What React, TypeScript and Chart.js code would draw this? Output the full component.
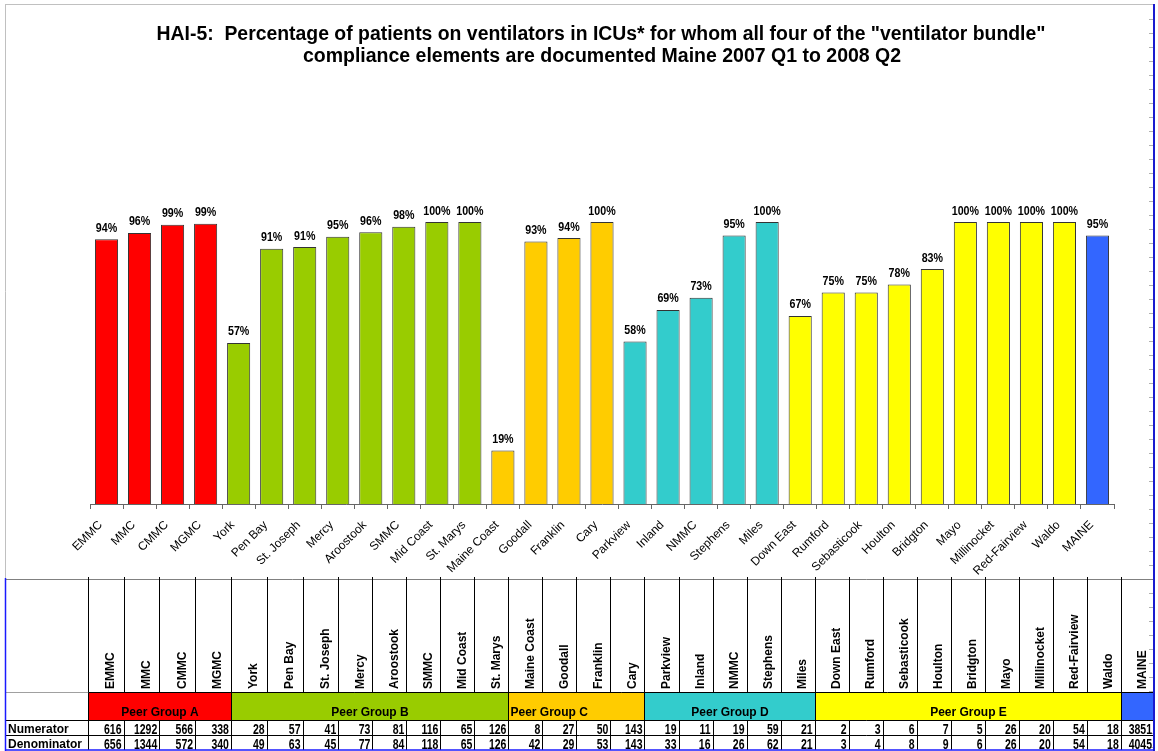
import React, { useEffect, useRef } from 'react';
import { Chart, registerables } from 'chart.js';
Chart.register(...registerables);

const titleLines = [
  'HAI-5:  Percentage of patients on ventilators in ICUs* for whom all four of the "ventilator bundle"',
  'compliance elements are documented Maine 2007 Q1 to 2008 Q2',
];

const hospitals = ['EMMC', 'MMC', 'CMMC', 'MGMC', 'York', 'Pen Bay', 'St. Joseph', 'Mercy', 'Aroostook', 'SMMC', 'Mid Coast', 'St. Marys', 'Maine Coast', 'Goodall', 'Franklin', 'Cary', 'Parkview', 'Inland', 'NMMC', 'Stephens', 'Miles', 'Down East', 'Rumford', 'Sebasticook', 'Houlton', 'Bridgton', 'Mayo', 'Millinocket', 'Red-Fairview', 'Waldo', 'MAINE'];
const percentages = [93.9, 96.1, 99.0, 99.4, 57.1, 90.5, 91.1, 94.8, 96.4, 98.3, 100, 100, 19.0, 93.1, 94.3, 100, 57.6, 68.8, 73.1, 95.2, 100, 66.7, 75.0, 75.0, 77.8, 83.3, 100, 100, 100, 100, 95.2];
const numerators = [616, 1292, 566, 338, 28, 57, 41, 73, 81, 116, 65, 126, 8, 27, 50, 143, 19, 11, 19, 59, 21, 2, 3, 6, 7, 5, 26, 20, 54, 18, 3851];
const denominators = [656, 1344, 572, 340, 49, 63, 45, 77, 84, 118, 65, 126, 42, 29, 53, 143, 33, 16, 26, 62, 21, 3, 4, 8, 9, 6, 26, 20, 54, 18, 4045];
const peerGroups = ['A', 'A', 'A', 'A', 'B', 'B', 'B', 'B', 'B', 'B', 'B', 'B', 'C', 'C', 'C', 'C', 'D', 'D', 'D', 'D', 'D', 'E', 'E', 'E', 'E', 'E', 'E', 'E', 'E', 'E', 'ALL'];
const peerGroupNames: Record<string, string> = { A: 'Peer Group A', B: 'Peer Group B', C: 'Peer Group C', D: 'Peer Group D', E: 'Peer Group E', ALL: '' };
const rowLabels = ['Numerator', 'Denominator'];

const groupColors: Record<string, string> = { A: '#FF0000', B: '#99CC00', C: '#FFCC00', D: '#33CCCC', E: '#FFFF00', ALL: '#3366FF' };
const FONT = '"Liberation Sans", Arial, sans-serif';

// table geometry
const colBound = (i: number) => (i <= 7 ? 87.7 + i * 35.8 : i <= 30 ? 338.3 + (i - 7) * 34.02 : 1154);
const px = (v: number) => Math.round(v) + 0.5;

function line(ctx: CanvasRenderingContext2D, x0: number, y0: number, x1: number, y1: number, color: string, w = 1) {
  ctx.strokeStyle = color;
  ctx.lineWidth = w;
  ctx.beginPath();
  ctx.moveTo(x0, y0);
  ctx.lineTo(x1, y1);
  ctx.stroke();
}

const decor = {
  id: 'decor',
  beforeDraw(chart: any) {
    const ctx = chart.ctx;
    ctx.save();
    ctx.fillStyle = '#fff';
    ctx.fillRect(0, 0, chart.width, chart.height);
    ctx.restore();
  },
  afterDatasetsDraw(chart: any) {
    const ctx: CanvasRenderingContext2D = chart.ctx;
    const meta = chart.getDatasetMeta(0);
    ctx.save();
    ctx.fillStyle = '#000';
    ctx.font = `bold 13px ${FONT}`;
    ctx.textAlign = 'center';
    ctx.textBaseline = 'alphabetic';
    meta.data.forEach((bar: any, i: number) => {
      ctx.save();
      ctx.translate(bar.x, bar.y - 7.5);
      ctx.scale(0.82, 1);
      ctx.fillText(Math.round(percentages[i]) + '%', 0, 0);
      ctx.restore();
    });
    ctx.restore();
  },
  afterDraw(chart: any) {
    const ctx: CanvasRenderingContext2D = chart.ctx;
    ctx.save();
    // title
    ctx.fillStyle = '#000';
    ctx.textAlign = 'center';
    ctx.textBaseline = 'alphabetic';
    ctx.font = `bold 19.4px ${FONT}`;
    ctx.fillText(titleLines[0], 601, 40);
    ctx.font = `bold 19.5px ${FONT}`;
    ctx.fillText(titleLines[1], 602, 62);

    // chart frame
    line(ctx, 5, 4.5, 1153, 4.5, '#c0c0c0');
    line(ctx, 5.5, 4, 5.5, 579, '#c0c0c0');
    // right side ticks
    for (let y = 19; y < 750; y += 14) line(ctx, 1149, px(y), 1153, px(y), '#b0b0b0');

    const T0 = 579.5, H1 = 692.5, H2 = 720.5, H3 = 735.5, H4 = 750;
    const n = hospitals.length;

    // peer group fills
    let s = 0;
    for (let i = 1; i <= n; i++) {
      if (i === n || peerGroups[i] !== peerGroups[s]) {
        const g = peerGroups[s];
        const x0 = px(colBound(s)), x1 = px(colBound(i));
        ctx.fillStyle = groupColors[g];
        ctx.fillRect(x0, H1, x1 - x0, H2 - H1);
        const name = peerGroupNames[g];
        if (name) {
          ctx.fillStyle = '#000';
          ctx.font = `bold 12px ${FONT}`;
          ctx.textBaseline = 'alphabetic';
          if (g === 'C') {
            ctx.textAlign = 'left';
            ctx.fillText(name, x0 + 2, 716);
          } else {
            ctx.textAlign = 'center';
            ctx.fillText(name, (x0 + x1) / 2, 716);
          }
        }
        line(ctx, x0, H1, x0, H2, '#000');
        s = i;
      }
    }

    // horizontal lines
    line(ctx, 5, T0, 1154, T0, '#808080');
    line(ctx, 5, H1, px(colBound(0)), H1, '#a0a0a0');
    line(ctx, px(colBound(0)), H1, 1154, H1, '#000');
    line(ctx, 5, H2, 1154, H2, '#000');
    line(ctx, 5, H3, 1154, H3, '#000');

    // vertical lines
    for (let i = 0; i <= n; i++) {
      const x = px(colBound(i));
      line(ctx, x, 577, x, H1, '#000');
      line(ctx, x, H2, x, H4, '#000');
    }

    // header names (rotated)
    ctx.fillStyle = '#000';
    ctx.font = `bold 12px ${FONT}`;
    ctx.textAlign = 'left';
    ctx.textBaseline = 'middle';
    for (let i = 0; i < n; i++) {
      const cx = (colBound(i) + colBound(i + 1)) / 2 + 5;
      ctx.save();
      ctx.translate(cx, 689);
      ctx.rotate(-Math.PI / 2);
      ctx.fillText(hospitals[i], 0, 0);
      ctx.restore();
    }

    // row labels
    ctx.textBaseline = 'alphabetic';
    ctx.textAlign = 'left';
    ctx.fillText(rowLabels[0], 8, 733);
    ctx.fillText(rowLabels[1], 8, 748);

    // numbers
    ctx.font = `bold 14px ${FONT}`;
    ctx.textAlign = 'right';
    const rows = [numerators, denominators];
    const bases = [733.5, 748.5];
    rows.forEach((row, r) => {
      row.forEach((v, i) => {
        ctx.save();
        ctx.translate(colBound(i + 1) - 2, bases[r]);
        ctx.scale(0.75, 1);
        ctx.fillText(String(v), 0, 0);
        ctx.restore();
      });
    });

    // blue borders
    line(ctx, 5.5, 578, 5.5, 751, '#1a1aff', 1.5);
    line(ctx, 5, H4, 1155, H4, '#1a1aff', 1.5);
    line(ctx, 1154, 4, 1154, 751, '#1a1ad0', 2);
    ctx.restore();
  },
};

export default function App() {
  const ref = useRef<HTMLCanvasElement>(null);
  useEffect(() => {
    const canvas = ref.current!;
    const chart = new Chart(canvas, {
      type: 'bar',
      data: {
        labels: hospitals,
        datasets: [
          {
            data: percentages,
            backgroundColor: peerGroups.map((g) => groupColors[g]),
            borderColor: '#333333',
            borderWidth: 1,
            categoryPercentage: 1,
            barPercentage: 0.7,
          },
        ],
      },
      options: {
        responsive: false,
        animation: false,
        devicePixelRatio: 1,
        layout: { padding: { top: 222, left: 90, right: 44, bottom: 0 } },
        plugins: { legend: { display: false }, title: { display: false }, tooltip: { enabled: false } },
        scales: {
          x: {
            grid: { display: true, drawOnChartArea: false, drawTicks: true, tickLength: 5, color: '#666', offset: true },
            border: { display: true, color: '#666', width: 1 },
            ticks: {
              autoSkip: false,
              minRotation: 45,
              maxRotation: 45,
              padding: 9,
              labelOffset: -6,
              color: '#000',
              font: { family: FONT, size: 12 },
            },
            afterFit: (s: any) => {
              s.height = 247;
            },
          },
          y: { display: false, min: 0, max: 100 },
        },
      } as any,
      plugins: [decor],
    });
    return () => chart.destroy();
  }, []);
  return (
    <div style={{ position: 'absolute', left: 0, top: 0, width: 1158, height: 751, background: '#fff' }}>
      <canvas ref={ref} width={1158} height={751} style={{ width: 1158, height: 751, display: 'block' }} />
    </div>
  );
}
